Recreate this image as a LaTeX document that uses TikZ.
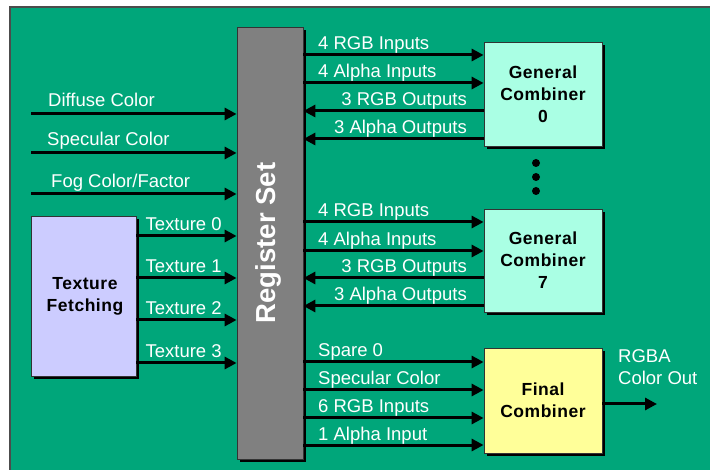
\documentclass[tikz,border=0pt]{standalone}
\usepackage{fontspec}
\setmainfont{Liberation Sans}
\newfontfamily\spacedbold[LetterSpace=3]{Liberation Sans Bold}
\usetikzlibrary{arrows.meta,shadows}

\definecolor{boardgreen}{RGB}{0,166,122}
\definecolor{combaqua}{RGB}{170,255,228}
\definecolor{texlav}{RGB}{204,204,255}
\definecolor{finyellow}{RGB}{255,255,153}
\definecolor{reggray}{RGB}{128,128,128}

\tikzset{
  unit/.style={draw=black!80, line width=0.8pt, inner sep=0pt,
    drop shadow={shadow xshift=3pt, shadow yshift=-3pt, fill=black, opacity=1},
    font=\fontsize{17.5}{22}\spacedbold, align=center, text=black},
  combbox/.style={unit, fill=combaqua, minimum width=118pt},
  sig/.style={line width=3pt, -{Triangle[length=12pt,width=12pt]}},
  lbl/.style={anchor=base west, inner sep=0pt, text=white, font=\fontsize{18.5}{22}\selectfont},
  lblr/.style={lbl, anchor=base east},
  dot/.style={circle, fill=black, inner sep=0pt, minimum size=8pt},
}

\begin{document}
\begin{tikzpicture}[x=1pt,y=-1pt]
  \useasboundingbox (0,0) rectangle (710,470);
  % board
  \fill[boardgreen] (10,7) rectangle (714,474);
  \draw[black!70, line width=1.2pt] (10,474) -- (10,7) -- (714,7);

  % blocks
  \node[unit, fill=reggray, minimum width=66pt, minimum height=432pt] (reg) at (270,243) {};
  \node[rotate=90, text=white, font=\fontsize{27.5}{30}\selectfont\bfseries] (reglabel) at (268,243) {Register Set};
  \node[unit, fill=texlav, minimum width=105pt, minimum height=160pt] (tex) at (83.5,296) {};
  \node[font=\fontsize{17.5}{22}\spacedbold, align=center] (texlabel) at (85,296) {Texture\\Fetching};
  \node[combbox, minimum height=104pt] (gc0) at (543,94) {General\\Combiner\\0};
  \node[combbox, minimum height=103pt] (gc7) at (543,260.5) {General\\Combiner\\7};
  \node[unit, fill=finyellow, minimum width=118pt, minimum height=105pt] (fin) at (543,400.5) {Final\\Combiner};

  % ellipsis between the general combiners
  \node[dot] (d1) at (536,163) {};
  \node[dot] (d2) at (536,177) {};
  \node[dot] (d3) at (536,191) {};

  % signal levels
  \coordinate (inD) at (31,114);
  \coordinate (inS) at (31,153);
  \coordinate (inF) at (31,194);
  \coordinate (t0) at (0,236);
  \coordinate (t1) at (0,278);
  \coordinate (t2) at (0,320);
  \coordinate (t3) at (0,363);
  \coordinate (a1) at (0,55);
  \coordinate (a2) at (0,83);
  \coordinate (a3) at (0,111);
  \coordinate (a4) at (0,139);
  \coordinate (b1) at (0,222);
  \coordinate (b2) at (0,251);
  \coordinate (b3) at (0,278);
  \coordinate (b4) at (0,306);
  \coordinate (c1) at (0,362);
  \coordinate (c2) at (0,390);
  \coordinate (c3) at (0,418);
  \coordinate (c4) at (0,445);
  \coordinate (out) at (657,404);

  % fragment inputs
  \draw[sig] (inD) -- (reg.west |- inD);
  \draw[sig] (inS) -- (reg.west |- inS);
  \draw[sig] (inF) -- (reg.west |- inF);
  \node[lbl] at (48,107) {Diffuse Color};
  \node[lbl] at (47,146) {Specular Color};
  \node[lbl] at (51,188) {Fog Color/Factor};

  % textures
  \foreach \t/\n in {t0/0,t1/1,t2/2,t3/3}{
    \draw[sig] (tex.east |- \t) -- (reg.west |- \t);
    \node[lbl] at ([yshift=5pt]tex.east |- \t) [xshift=9pt] {Texture \n};
  }

  % general combiner 0
  \draw[sig] (reg.east |- a1) -- (gc0.west |- a1);
  \draw[sig] (reg.east |- a2) -- (gc0.west |- a2);
  \draw[sig] (gc0.west |- a3) -- (reg.east |- a3);
  \draw[sig] (gc0.west |- a4) -- (reg.east |- a4);
  \node[lbl] at (318,50) {4 RGB Inputs};
  \node[lbl] at (318,78) {4 Alpha Inputs};
  \node[lblr] at (467,106) {3 RGB Outputs};
  \node[lblr] at (467,134) {3 Alpha Outputs};

  % general combiner 7
  \draw[sig] (reg.east |- b1) -- (gc7.west |- b1);
  \draw[sig] (reg.east |- b2) -- (gc7.west |- b2);
  \draw[sig] (gc7.west |- b3) -- (reg.east |- b3);
  \draw[sig] (gc7.west |- b4) -- (reg.east |- b4);
  \node[lbl] at (318,217) {4 RGB Inputs};
  \node[lbl] at (318,246) {4 Alpha Inputs};
  \node[lblr] at (467,273) {3 RGB Outputs};
  \node[lblr] at (467,301) {3 Alpha Outputs};

  % final combiner
  \draw[sig] (reg.east |- c1) -- (fin.west |- c1);
  \draw[sig] (reg.east |- c2) -- (fin.west |- c2);
  \draw[sig] (reg.east |- c3) -- (fin.west |- c3);
  \draw[sig] (reg.east |- c4) -- (fin.west |- c4);
  \node[lbl] at (318,357) {Spare 0};
  \node[lbl] at (318,385) {Specular Color};
  \node[lbl] at (318,413) {6 RGB Inputs};
  \node[lbl] at (318,440) {1 Alpha Input};

  % output
  \draw[sig] (fin.east |- out) -- (out);
  \node[lbl] at (618,363) {RGBA};
  \node[lbl] at (618,385) {Color Out};
\end{tikzpicture}
\end{document}
